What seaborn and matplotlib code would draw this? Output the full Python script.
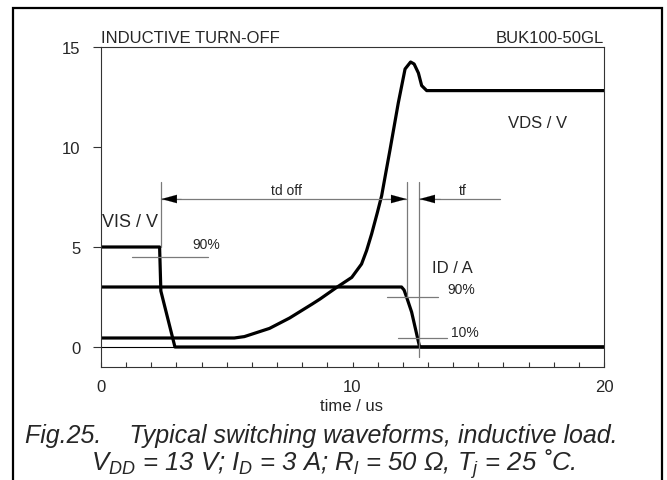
import matplotlib
matplotlib.use("Agg")
import matplotlib.pyplot as plt
import matplotlib.patches as mpatches
from matplotlib.ticker import MultipleLocator
import pandas as pd
import seaborn as sns

# gate drive voltage VIS / V
vis_time = [0, 2.33, 2.38, 2.94, 20]
vis_volt = [5, 5, 2.8, 0, 0]

# drain current ID / A
id_time = [0, 11.95, 12.05, 12.15, 12.35, 12.66, 12.7, 20]
id_amp = [3, 3, 2.85, 2.5, 1.75, 0.05, 0, 0]

# drain-source voltage VDS / V
vds_time = [0, 5.3, 5.7, 6.7, 7.5, 8.4, 8.71, 9.37, 9.97, 10.36, 10.56, 10.76, 10.99,
            11.16, 11.33, 11.49, 11.82, 12.09, 12.31, 12.45, 12.62, 12.75, 12.95, 20]
vds_volt = [0.45, 0.45, 0.52, 0.93, 1.45, 2.15, 2.4, 2.98, 3.48, 4.15, 4.82, 5.65, 6.73,
            7.57, 8.75, 9.85, 12.2, 13.9, 14.25, 14.15, 13.7, 13.07, 12.82, 12.82]

x_ticks = [0, 10, 20]
y_ticks = [0, 5, 10, 15]

sns.set_theme(style="ticks")
plt.rcParams["font.family"] = ["Liberation Sans", "DejaVu Sans"]
plt.rcParams["mathtext.fontset"] = "custom"
plt.rcParams["mathtext.rm"] = "Liberation Sans"
plt.rcParams["mathtext.it"] = "Liberation Sans:italic"

fig = plt.figure(figsize=(6.67, 4.81), dpi=100)
ax = fig.add_axes([101 / 667, 1 - 368 / 481, 503 / 667, 320 / 481])

trace_kw = dict(color="black", linewidth=2.3, estimator=None, sort=False, ax=ax)
sns.lineplot(x=vis_time, y=vis_volt, **trace_kw)
sns.lineplot(x=id_time, y=id_amp, **trace_kw)
sns.lineplot(x=vds_time, y=vds_volt, **trace_kw)
ax.axhline(0, color="black", linewidth=0.8, zorder=1)

ax.set_xlim(0, 20)
ax.set_ylim(-1, 15)
ax.set_xticks(x_ticks)
ax.set_yticks(y_ticks)
ax.xaxis.set_minor_locator(MultipleLocator(1))
ax.tick_params(axis="x", which="both", direction="in", length=3.3, width=0.8,
               color="#333333", labelsize=12, pad=9, top=False)
ax.tick_params(axis="y", direction="out", length=5.8, width=0.8,
               color="#333333", labelsize=12, pad=9, right=False)
for sp in ax.spines.values():
    sp.set_visible(True)
    sp.set_linewidth(0.8)
    sp.set_color("#333333")
ax.set_xlabel("")
ax.set_ylabel("")

# timing annotations
gray = "#7a7a7a"
ax.plot([2.4, 2.4], [8.25, 5.0], color=gray, linewidth=0.9)
ax.plot([12.15, 12.15], [8.25, 2.55], color=gray, linewidth=0.9)
ax.plot([12.66, 12.66], [8.25, -0.5], color=gray, linewidth=0.9)
ax.plot([1.22, 4.27], [4.52, 4.52], color=gray, linewidth=0.9)
ax.plot([11.38, 13.41], [2.52, 2.52], color=gray, linewidth=0.9)
ax.plot([11.82, 13.77], [0.45, 0.45], color=gray, linewidth=0.9)

ax.plot([2.4, 12.15], [7.4, 7.4], color=gray, linewidth=0.9)
ax.plot([12.66, 15.86], [7.4, 7.4], color=gray, linewidth=0.9)
head = dict(arrowstyle="-|>,head_length=1.1,head_width=0.3", color="black",
            mutation_scale=10, shrinkA=0, shrinkB=0, linewidth=0.1)
ax.annotate("", xy=(2.4, 7.4), xytext=(3.2, 7.4), arrowprops=head)
ax.annotate("", xy=(12.15, 7.4), xytext=(11.3, 7.4), arrowprops=head)
ax.annotate("", xy=(12.66, 7.4), xytext=(13.5, 7.4), arrowprops=head)

ax.text(7.39, 7.65, "td off", ha="center", va="baseline", fontsize=10)
ax.text(14.39, 7.65, "tf", ha="center", va="baseline", fontsize=10)
ax.text(3.64, 4.93, "90%", ha="left", va="baseline", fontsize=10)
ax.text(13.77, 2.68, "90%", ha="left", va="baseline", fontsize=10)
ax.text(13.9, 0.57, "10%", ha="left", va="baseline", fontsize=10)
ax.text(0.03, 6.05, "VIS / V", ha="left", va="baseline", fontsize=13)
ax.text(13.15, 3.73, "ID / A", ha="left", va="baseline", fontsize=12)
ax.text(16.2, 10.98, "VDS / V", ha="left", va="baseline", fontsize=12)

ax.text(0, 1.016, "INDUCTIVE TURN-OFF", transform=ax.transAxes,
        ha="left", va="baseline", fontsize=12)
ax.text(1, 1.016, "BUK100-50GL", transform=ax.transAxes,
        ha="right", va="baseline", fontsize=12)

fig.text(352 / 667, 1 - 411 / 481, "time / us", ha="center", va="baseline", fontsize=12)
fig.text(321 / 667, 1 - 443 / 481,
         "Fig.25.    Typical switching waveforms, inductive load.",
         ha="center", va="baseline", fontsize=18, style="italic")
fig.text(333 / 667, 1 - 471 / 481,
         r"$V_{DD}$ = 13 V; $I_D$ = 3 A; $R_l$ = 50 Ω, $T_j$ = 25 ˚C.",
         ha="center", va="baseline", fontsize=18.5, style="italic")

frame = mpatches.Rectangle((13 / 667, -0.1), 649 / 667, 1.1 - 9 / 481,
                           transform=fig.transFigure, fill=False,
                           edgecolor="black", linewidth=1.6)
fig.patches.append(frame)

fig.savefig("out.png", dpi=100)
